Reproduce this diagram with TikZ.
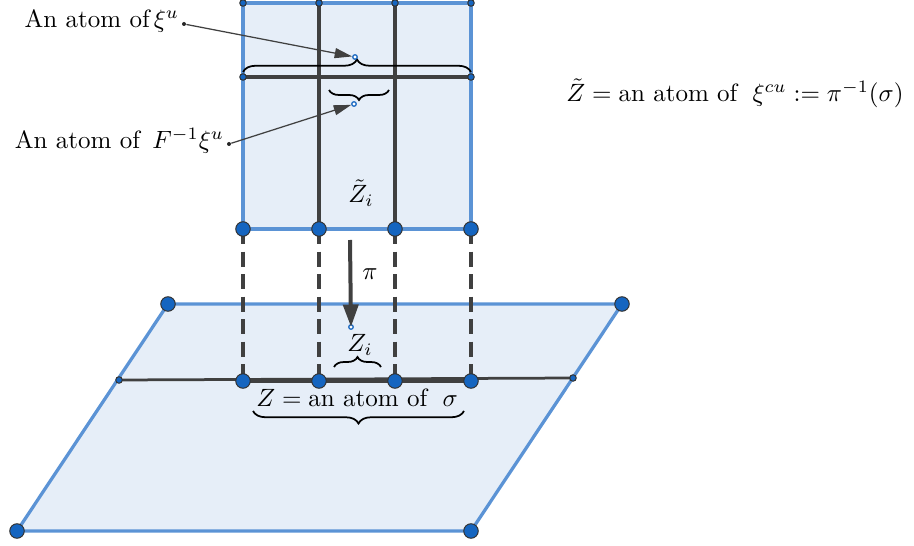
\documentclass[tikz,border=0pt]{standalone}
\usepackage{amsmath}
\usetikzlibrary{arrows.meta,decorations.pathreplacing}
\definecolor{gblue}{HTML}{5B93D5}
\definecolor{gfill}{HTML}{E6EEF8}
\definecolor{gdot}{HTML}{1565C0}
\definecolor{gdark}{HTML}{404040}
\tikzset{
  blueline/.style={draw=gblue,line width=1.3pt},
  darkline/.style={draw=gdark,line width=1.4pt},
  bigdot/.style={circle,fill=gdot,draw=black!80,line width=0.4pt,minimum size=5.8pt,inner sep=0pt},
  smalldot/.style={circle,fill=gdot,draw=black!80,line width=0.4pt,minimum size=2.6pt,inner sep=0pt},
  tinydot/.style={circle,fill=white,draw=gdot,line width=0.5pt,minimum size=1.8pt,inner sep=0pt},
  blackdot/.style={circle,fill=black!85,minimum size=1.6pt,inner sep=0pt},
  pointer/.style={draw=gdark,line width=0.5pt,-{Triangle[length=7pt,width=4pt]}},
  bracestyle/.style={draw=black,line width=0.7pt,decorate},
  txt/.style={inner sep=1pt}
}
\begin{document}
\begin{tikzpicture}[x=0.4pt,y=-0.4pt]
\useasboundingbox (0,0) rectangle (914,546);
% plane
\coordinate (p1) at (168,304);
\coordinate (p2) at (622,304);
\coordinate (p3) at (471,531);
\coordinate (p4) at (17,531);
\fill[gfill] (p1) -- (p2) -- (p3) -- (p4) -- cycle;
\draw[blueline] (p1) -- (p2) -- (p3) -- (p4) -- cycle;
% upper rectangle
\coordinate (r1) at (243,3);
\coordinate (r2) at (471,3);
\coordinate (r3) at (471,229);
\coordinate (r4) at (243,229);
\fill[gfill] (r1) -- (r2) -- (r3) -- (r4) -- cycle;
\draw[blueline] (r1) -- (r2) -- (r3) -- (r4) -- cycle;
\coordinate (t2) at (319,3);
\coordinate (t3) at (395,3);
\coordinate (b2) at (319,229);
\coordinate (b3) at (395,229);
\draw[darkline] (t2) -- (b2);
\draw[darkline] (t3) -- (b3);
\coordinate (h1) at (243,77);
\coordinate (h2) at (471,77);
\draw[darkline] (h1) -- (h2);
% dashed projections
\coordinate (q1) at (243,381);
\coordinate (q2) at (319,381);
\coordinate (q3) at (395,381);
\coordinate (q4) at (471,381);
\foreach \a/\b in {r4/q1,b2/q2,b3/q3,r3/q4}
  \draw[gdark,line width=1.4pt,dash pattern=on 6pt off 3pt] (\a) -- (\b);
% horizontal line on plane
\coordinate (l1) at (119,380);
\coordinate (l2) at (573,378);
\draw[darkline,line width=1.1pt] (l1) -- (l2);
\draw[gdark,line width=1.8pt] (q1) -- (q4);
% pi arrow
\coordinate (pitop) at (350,240);
\node[tinydot] (zi) at (351,327) {};
\draw[gdark,line width=1.6pt,-{Triangle[length=9pt,width=6pt]}] (pitop) -- (zi.center);
\node[txt] (pi) at (370,274) {$\pi$};
% dots
\foreach \n/\p in {d1/r4,d2/b2,d3/b3,d4/r3,d5/q1,d6/q2,d7/q3,d8/q4,d9/p1,d10/p2,d11/p3,d12/p4}
  \node[bigdot] (\n) at (\p) {};
\foreach \n/\p in {s1/r1,s2/t2,s3/t3,s4/r2,s5/h1,s6/h2,s7/l1,s8/l2}
  \node[smalldot] (\n) at (\p) {};
% braces upper
\draw[bracestyle,decoration={brace,amplitude=5pt}] (243,72) -- (471,72);
\draw[bracestyle,decoration={brace,amplitude=4pt,mirror}] (329,90) -- (389,90);
\node[tinydot] (a1) at (355,57) {};
\node[tinydot] (a2) at (354,104) {};
% labels with pointers
\node[blackdot] (e1) at (184,24) {};
\node[blackdot] (e2) at (229,144) {};
\node[txt,anchor=east] (lab1) at (182,21) {An atom of$\,\xi^u$};
\node[txt,anchor=east] (lab2) at (227,141) {An atom of $\,F^{-1}\xi^u$};
\draw[pointer] (e1) -- (a1);
\draw[pointer] (e2) -- (a2);
% Z tilde i
\node[txt] (zti) at (361,193) {$\tilde Z_i$};
% Z_i and braces below
\node[txt] (zil) at (360,345) {$Z_i$};
\draw[bracestyle,decoration={brace,amplitude=4pt}] (334,367) -- (381,367);
\node[txt] (zlab) at (357,398) {$Z=\text{an atom of }\;\sigma$};
\draw[bracestyle,decoration={brace,amplitude=5pt,mirror}] (253,411) -- (464,411);
% right label
\node[txt] (right) at (735,93) {$\tilde Z=\text{an atom of }\;\xi^{cu}:=\pi^{-1}(\sigma)$};
\end{tikzpicture}
\end{document}
